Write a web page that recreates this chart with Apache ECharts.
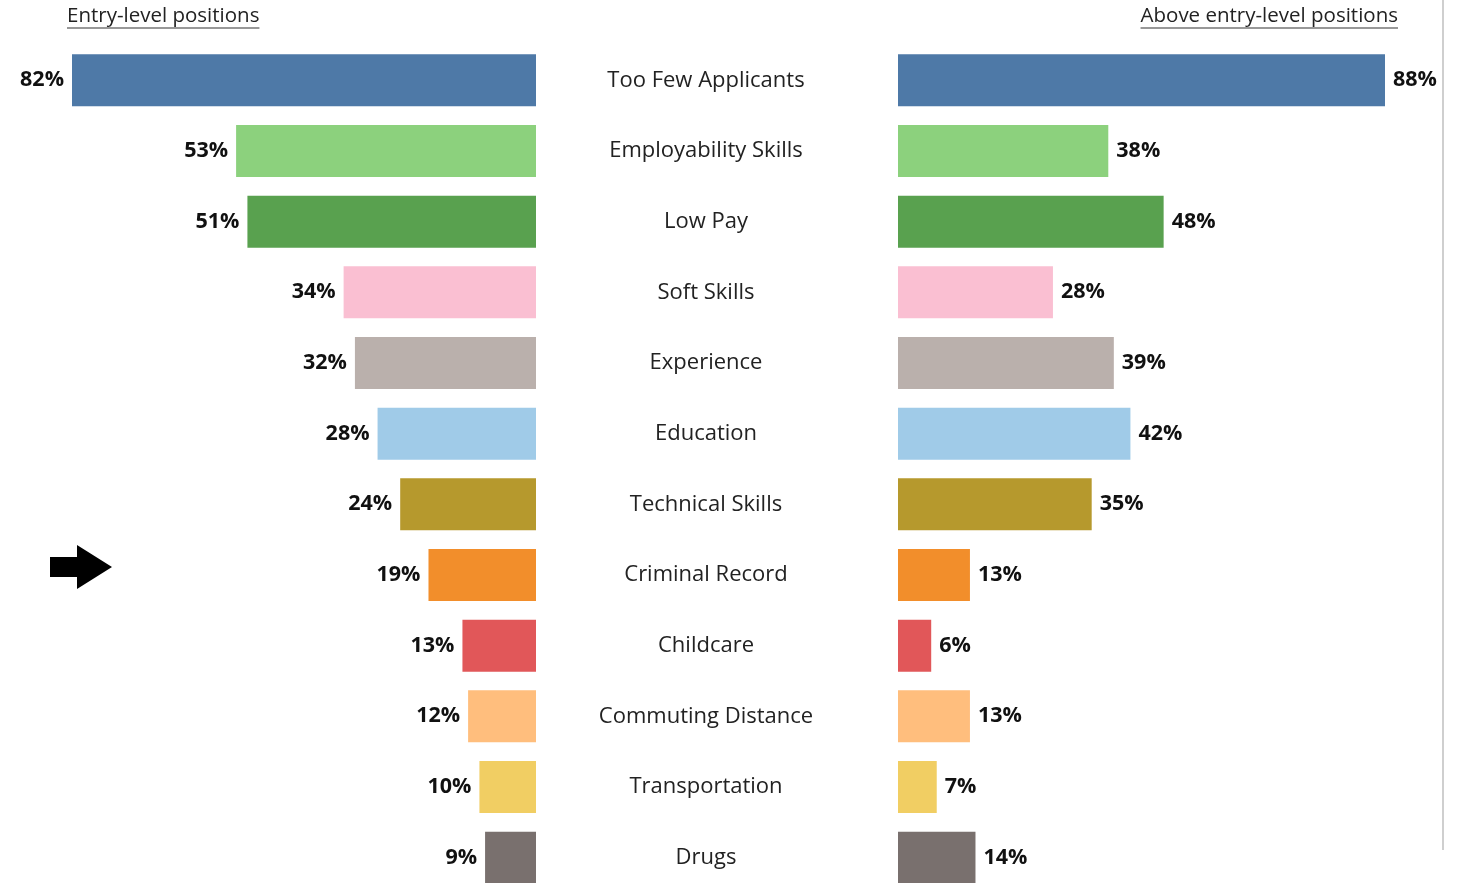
<!DOCTYPE html>
<html>
<head>
<meta charset="utf-8">
<script src="https://cdn.jsdelivr.net/npm/echarts@6/dist/echarts.min.js"></script>
<style>
  html, body { margin: 0; padding: 0; background: #fff; overflow: hidden; }
  /* Taller than the window so the last row runs past the bottom edge */
  #chart { width: 1465px; height: 893px; }
</style>
</head>
<body>
<div id="chart"></div>
<script>
// Reasons given for hiring difficulty, by position level (% of respondents)
const categories = [
  'Too Few Applicants', 'Employability Skills', 'Low Pay', 'Soft Skills',
  'Experience', 'Education', 'Technical Skills', 'Criminal Record',
  'Childcare', 'Commuting Distance', 'Transportation', 'Drugs'
];
const entryLevel = [82, 53, 51, 34, 32, 28, 24, 19, 13, 12, 10, 9];
const aboveEntryLevel = [88, 38, 48, 28, 39, 42, 35, 13, 6, 13, 7, 14];
const barColors = [
  '#4e79a7', '#8cd17d', '#59a14f', '#fabfd2', '#bab0ac', '#a0cbe8',
  '#b6992d', '#f28e2b', '#e15759', '#ffbe7d', '#f1ce63', '#79706e'
];
const leftTitle = 'Entry-level positions';
const rightTitle = 'Above entry-level positions';
const highlighted = 'Criminal Record';

const FONT = '"Open Sans", "Noto Sans", sans-serif';

function colored(values) {
  return values.map((v, i) => ({ value: v, itemStyle: { color: barColors[i] } }));
}

const chart = echarts.init(document.getElementById('chart'), null, { renderer: 'canvas' });

const gridTop = 45;
const gridBottom = 0;

const valueLabel = {
  show: true, distance: 8,
  formatter: p => p.value + '%',
  fontFamily: FONT, fontSize: 21.5, fontWeight: 'bold', color: '#111',
  padding: [2, 0, 0, 0]
};

const option = {
  animation: false,
  backgroundColor: '#ffffff',
  grid: [
    { left: 72, width: 464, top: gridTop, bottom: gridBottom },
    { left: 898, width: 487, top: gridTop, bottom: gridBottom }
  ],
  xAxis: [
    { gridIndex: 0, type: 'value', min: 0, max: 82, inverse: true, show: false },
    { gridIndex: 1, type: 'value', min: 0, max: 88, show: false }
  ],
  yAxis: [
    {
      gridIndex: 0, type: 'category', data: categories, inverse: true,
      position: 'right',
      axisLine: { show: false }, axisTick: { show: false },
      axisLabel: {
        show: true, align: 'center', margin: 170,
        fontFamily: FONT, fontSize: 22, color: '#222',
        padding: [3, 0, 0, 0]
      }
    },
    {
      gridIndex: 1, type: 'category', data: categories, inverse: true,
      axisLine: { show: false }, axisTick: { show: false }, axisLabel: { show: false }
    }
  ],
  series: [
    {
      type: 'bar', xAxisIndex: 0, yAxisIndex: 0, barWidth: 52,
      data: colored(entryLevel),
      label: Object.assign({ position: 'left' }, valueLabel)
    },
    {
      type: 'bar', xAxisIndex: 1, yAxisIndex: 1, barWidth: 52,
      data: colored(aboveEntryLevel),
      label: Object.assign({ position: 'right' }, valueLabel)
    }
  ]
};

chart.setOption(option);

// Panel headings (underlined), separator line and the pointer arrow
const titleSize = 20.5;
const titleStyle = { fontFamily: FONT, fontSize: titleSize, fill: '#222' };
function headingWidth(text) {
  const ctx = document.createElement('canvas').getContext('2d');
  ctx.font = titleSize + 'px ' + FONT;
  return ctx.measureText(text).width;
}
const lw = headingWidth(leftTitle);
const rw = headingWidth(rightTitle);
const leftX = 67, rightEnd = 1398, titleY = 6, underlineY = 28;

// Arrow sits slightly above the centre of its row
const arrowY = chart.convertToPixel({ yAxisIndex: 0 }, highlighted) - 8;

chart.setOption({
  graphic: [
    { type: 'text', left: leftX, top: titleY, style: Object.assign({ text: leftTitle }, titleStyle) },
    { type: 'line', shape: { x1: leftX, y1: underlineY, x2: leftX + lw, y2: underlineY }, style: { stroke: '#333', lineWidth: 1.2 } },
    { type: 'text', left: rightEnd - rw, top: titleY, style: Object.assign({ text: rightTitle }, titleStyle) },
    { type: 'line', shape: { x1: rightEnd - rw, y1: underlineY, x2: rightEnd, y2: underlineY }, style: { stroke: '#333', lineWidth: 1.2 } },
    { type: 'line', shape: { x1: 1443, y1: 0, x2: 1443, y2: 850 }, style: { stroke: '#cfcfcf', lineWidth: 2 } },
    {
      type: 'polygon',
      shape: {
        points: [
          [50, arrowY - 10], [77, arrowY - 10], [77, arrowY - 22],
          [112, arrowY], [77, arrowY + 22], [77, arrowY + 10], [50, arrowY + 10]
        ]
      },
      style: { fill: '#000' }
    }
  ]
});
</script>
</body>
</html>
